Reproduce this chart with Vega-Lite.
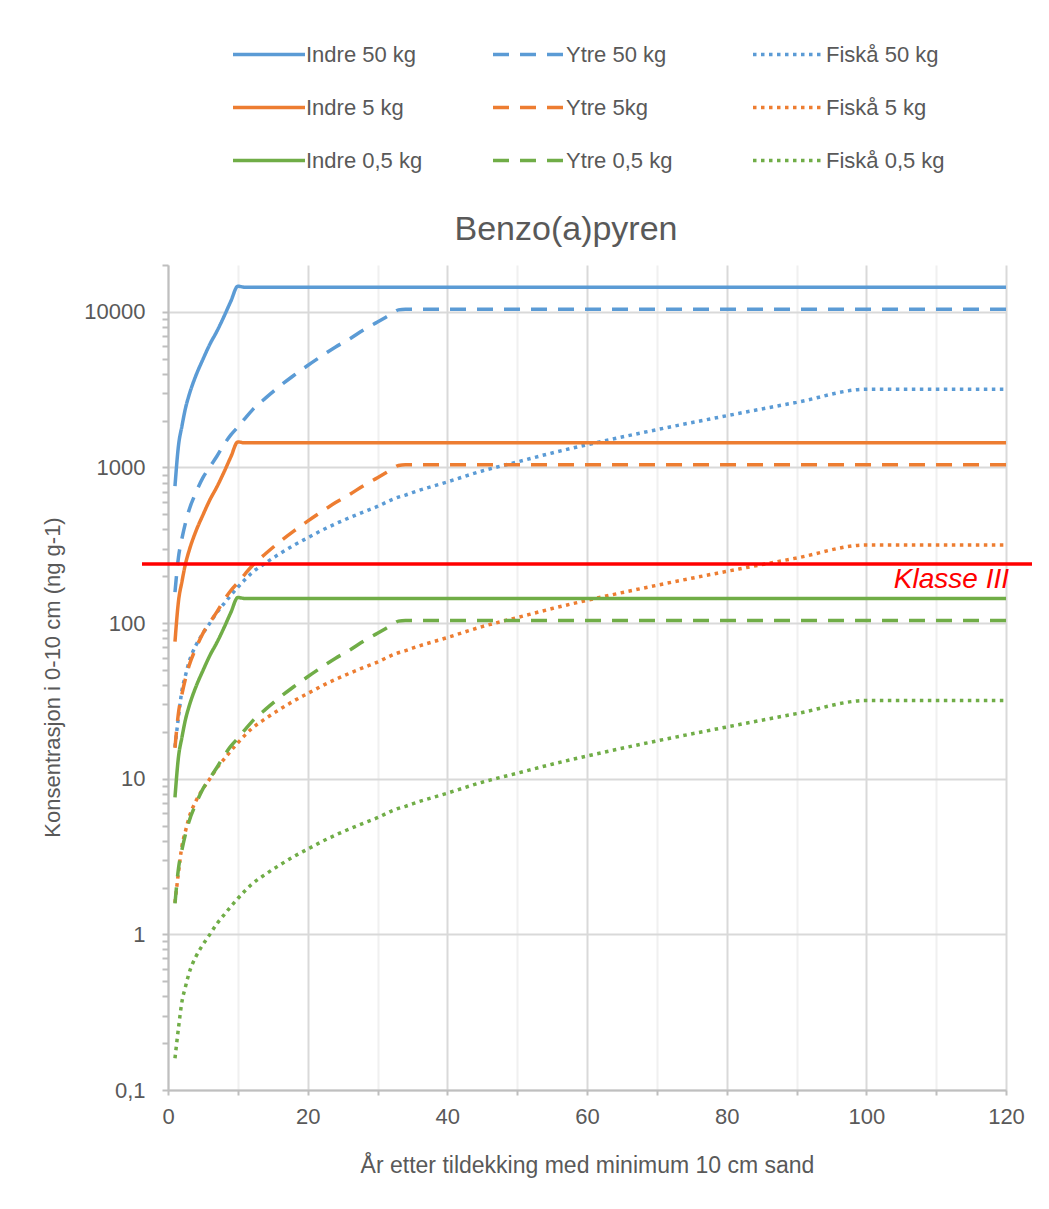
{
  "$schema": "https://vega.github.io/schema/vega-lite/v6.json",
  "width": 838,
  "height": 825,
  "autosize": {"type": "none"},
  "padding": {"left": 168, "top": 265, "right": 43, "bottom": 119},
  "background": "white",
  "config": {
    "font": "Liberation Sans, Arial, sans-serif",
    "view": {"stroke": null}
  },
  "title": {"text": "Benzo(a)pyren", "fontSize": 34, "fontWeight": "normal", "color": "#595959", "anchor": "middle", "frame": "group", "dx": -21, "offset": -246, "baseline": "alphabetic"},
  "layer": [
    {
      "data": {"values": [
        {"t": 1, "Indre 50 kg": 760, "Indre 5 kg": 76, "Indre 0,5 kg": 7.6, "Ytre 50 kg": 158, "Ytre 5kg": 15.8, "Ytre 0,5 kg": 1.58, "Fiskå 50 kg": 16, "Fiskå 5 kg": 1.6, "Fiskå 0,5 kg": 0.16},
        {"t": 1.5, "Indre 50 kg": 1380, "Indre 5 kg": 138, "Indre 0,5 kg": 13.8, "Ytre 50 kg": 265, "Ytre 5kg": 26.5, "Ytre 0,5 kg": 2.65, "Fiskå 50 kg": 25, "Fiskå 5 kg": 2.5, "Fiskå 0,5 kg": 0.25},
        {"t": 2, "Indre 50 kg": 1850, "Indre 5 kg": 185, "Indre 0,5 kg": 18.5, "Ytre 50 kg": 350, "Ytre 5kg": 35, "Ytre 0,5 kg": 3.5, "Fiskå 50 kg": 37, "Fiskå 5 kg": 3.7, "Fiskå 0,5 kg": 0.37},
        {"t": 2.5, "Indre 50 kg": 2400, "Indre 5 kg": 240, "Indre 0,5 kg": 24, "Ytre 50 kg": 440, "Ytre 5kg": 44, "Ytre 0,5 kg": 4.4, "Fiskå 50 kg": 46, "Fiskå 5 kg": 4.6, "Fiskå 0,5 kg": 0.46},
        {"t": 3, "Indre 50 kg": 2900, "Indre 5 kg": 290, "Indre 0,5 kg": 29, "Ytre 50 kg": 530, "Ytre 5kg": 53, "Ytre 0,5 kg": 5.3, "Fiskå 50 kg": 56, "Fiskå 5 kg": 5.6, "Fiskå 0,5 kg": 0.56},
        {"t": 4, "Indre 50 kg": 3900, "Indre 5 kg": 390, "Indre 0,5 kg": 39, "Ytre 50 kg": 690, "Ytre 5kg": 69, "Ytre 0,5 kg": 6.9, "Fiskå 50 kg": 72, "Fiskå 5 kg": 7.2, "Fiskå 0,5 kg": 0.72},
        {"t": 5, "Indre 50 kg": 4950, "Indre 5 kg": 495, "Indre 0,5 kg": 49.5, "Ytre 50 kg": 860, "Ytre 5kg": 86, "Ytre 0,5 kg": 8.6, "Fiskå 50 kg": 86, "Fiskå 5 kg": 8.6, "Fiskå 0,5 kg": 0.86},
        {"t": 6, "Indre 50 kg": 6200, "Indre 5 kg": 620, "Indre 0,5 kg": 62, "Ytre 50 kg": 1010, "Ytre 5kg": 101, "Ytre 0,5 kg": 10.1, "Fiskå 50 kg": 100, "Fiskå 5 kg": 10, "Fiskå 0,5 kg": 1.0},
        {"t": 7, "Indre 50 kg": 7500, "Indre 5 kg": 750, "Indre 0,5 kg": 75, "Ytre 50 kg": 1180, "Ytre 5kg": 118, "Ytre 0,5 kg": 11.8, "Fiskå 50 kg": 117, "Fiskå 5 kg": 11.7, "Fiskå 0,5 kg": 1.17},
        {"t": 8, "Indre 50 kg": 9300, "Indre 5 kg": 930, "Indre 0,5 kg": 93, "Ytre 50 kg": 1400, "Ytre 5kg": 140, "Ytre 0,5 kg": 14, "Fiskå 50 kg": 133, "Fiskå 5 kg": 13.3, "Fiskå 0,5 kg": 1.33},
        {"t": 9, "Indre 50 kg": 11700, "Indre 5 kg": 1170, "Indre 0,5 kg": 117, "Ytre 50 kg": 1620, "Ytre 5kg": 162, "Ytre 0,5 kg": 16.2, "Fiskå 50 kg": 151, "Fiskå 5 kg": 15.1, "Fiskå 0,5 kg": 1.51},
        {"t": 10, "Indre 50 kg": 14600, "Indre 5 kg": 1460, "Indre 0,5 kg": 146, "Ytre 50 kg": 1820, "Ytre 5kg": 182, "Ytre 0,5 kg": 18.2, "Fiskå 50 kg": 170, "Fiskå 5 kg": 17, "Fiskå 0,5 kg": 1.7},
        {"t": 11, "Indre 50 kg": 14400, "Indre 5 kg": 1440, "Indre 0,5 kg": 144, "Ytre 50 kg": 2060, "Ytre 5kg": 206, "Ytre 0,5 kg": 20.6, "Fiskå 50 kg": 190, "Fiskå 5 kg": 19, "Fiskå 0,5 kg": 1.9},
        {"t": 12, "Indre 50 kg": 14400, "Indre 5 kg": 1440, "Indre 0,5 kg": 144, "Ytre 50 kg": 2320, "Ytre 5kg": 232, "Ytre 0,5 kg": 23.2, "Fiskå 50 kg": 210, "Fiskå 5 kg": 21, "Fiskå 0,5 kg": 2.1},
        {"t": 14, "Indre 50 kg": 14400, "Indre 5 kg": 1440, "Indre 0,5 kg": 144, "Ytre 50 kg": 2800, "Ytre 5kg": 280, "Ytre 0,5 kg": 28, "Fiskå 50 kg": 244, "Fiskå 5 kg": 24.4, "Fiskå 0,5 kg": 2.44},
        {"t": 16, "Indre 50 kg": 14400, "Indre 5 kg": 1440, "Indre 0,5 kg": 144, "Ytre 50 kg": 3330, "Ytre 5kg": 333, "Ytre 0,5 kg": 33.3, "Fiskå 50 kg": 279, "Fiskå 5 kg": 27.9, "Fiskå 0,5 kg": 2.79},
        {"t": 18, "Indre 50 kg": 14400, "Indre 5 kg": 1440, "Indre 0,5 kg": 144, "Ytre 50 kg": 3900, "Ytre 5kg": 390, "Ytre 0,5 kg": 39, "Fiskå 50 kg": 316, "Fiskå 5 kg": 31.6, "Fiskå 0,5 kg": 3.16},
        {"t": 20, "Indre 50 kg": 14400, "Indre 5 kg": 1440, "Indre 0,5 kg": 144, "Ytre 50 kg": 4520, "Ytre 5kg": 452, "Ytre 0,5 kg": 45.2, "Fiskå 50 kg": 353, "Fiskå 5 kg": 35.3, "Fiskå 0,5 kg": 3.53},
        {"t": 22, "Indre 50 kg": 14400, "Indre 5 kg": 1440, "Indre 0,5 kg": 144, "Ytre 50 kg": 5200, "Ytre 5kg": 520, "Ytre 0,5 kg": 52, "Fiskå 50 kg": 394, "Fiskå 5 kg": 39.4, "Fiskå 0,5 kg": 3.94},
        {"t": 24, "Indre 50 kg": 14400, "Indre 5 kg": 1440, "Indre 0,5 kg": 144, "Ytre 50 kg": 5950, "Ytre 5kg": 595, "Ytre 0,5 kg": 59.5, "Fiskå 50 kg": 435, "Fiskå 5 kg": 43.5, "Fiskå 0,5 kg": 4.35},
        {"t": 26, "Indre 50 kg": 14400, "Indre 5 kg": 1440, "Indre 0,5 kg": 144, "Ytre 50 kg": 6700, "Ytre 5kg": 670, "Ytre 0,5 kg": 67, "Fiskå 50 kg": 476, "Fiskå 5 kg": 47.6, "Fiskå 0,5 kg": 4.76},
        {"t": 28, "Indre 50 kg": 14400, "Indre 5 kg": 1440, "Indre 0,5 kg": 144, "Ytre 50 kg": 7650, "Ytre 5kg": 765, "Ytre 0,5 kg": 76.5, "Fiskå 50 kg": 518, "Fiskå 5 kg": 51.8, "Fiskå 0,5 kg": 5.18},
        {"t": 30, "Indre 50 kg": 14400, "Indre 5 kg": 1440, "Indre 0,5 kg": 144, "Ytre 50 kg": 8600, "Ytre 5kg": 860, "Ytre 0,5 kg": 86, "Fiskå 50 kg": 562, "Fiskå 5 kg": 56.2, "Fiskå 0,5 kg": 5.62},
        {"t": 32, "Indre 50 kg": 14400, "Indre 5 kg": 1440, "Indre 0,5 kg": 144, "Ytre 50 kg": 9700, "Ytre 5kg": 970, "Ytre 0,5 kg": 97, "Fiskå 50 kg": 620, "Fiskå 5 kg": 62, "Fiskå 0,5 kg": 6.2},
        {"t": 33, "Indre 50 kg": 14400, "Indre 5 kg": 1440, "Indre 0,5 kg": 144, "Ytre 50 kg": 10300, "Ytre 5kg": 1030, "Ytre 0,5 kg": 103, "Fiskå 50 kg": 645, "Fiskå 5 kg": 64.5, "Fiskå 0,5 kg": 6.45},
        {"t": 34, "Indre 50 kg": 14400, "Indre 5 kg": 1440, "Indre 0,5 kg": 144, "Ytre 50 kg": 10400, "Ytre 5kg": 1040, "Ytre 0,5 kg": 104, "Fiskå 50 kg": 665, "Fiskå 5 kg": 66.5, "Fiskå 0,5 kg": 6.65},
        {"t": 35, "Indre 50 kg": 14400, "Indre 5 kg": 1440, "Indre 0,5 kg": 144, "Ytre 50 kg": 10400, "Ytre 5kg": 1040, "Ytre 0,5 kg": 104, "Fiskå 50 kg": 690, "Fiskå 5 kg": 69, "Fiskå 0,5 kg": 6.9},
        {"t": 40, "Indre 50 kg": 14400, "Indre 5 kg": 1440, "Indre 0,5 kg": 144, "Ytre 50 kg": 10400, "Ytre 5kg": 1040, "Ytre 0,5 kg": 104, "Fiskå 50 kg": 808, "Fiskå 5 kg": 80.8, "Fiskå 0,5 kg": 8.08},
        {"t": 45, "Indre 50 kg": 14400, "Indre 5 kg": 1440, "Indre 0,5 kg": 144, "Ytre 50 kg": 10400, "Ytre 5kg": 1040, "Ytre 0,5 kg": 104, "Fiskå 50 kg": 950, "Fiskå 5 kg": 95, "Fiskå 0,5 kg": 9.5},
        {"t": 50, "Indre 50 kg": 14400, "Indre 5 kg": 1440, "Indre 0,5 kg": 144, "Ytre 50 kg": 10400, "Ytre 5kg": 1040, "Ytre 0,5 kg": 104, "Fiskå 50 kg": 1085, "Fiskå 5 kg": 108.5, "Fiskå 0,5 kg": 10.85},
        {"t": 55, "Indre 50 kg": 14400, "Indre 5 kg": 1440, "Indre 0,5 kg": 144, "Ytre 50 kg": 10400, "Ytre 5kg": 1040, "Ytre 0,5 kg": 104, "Fiskå 50 kg": 1240, "Fiskå 5 kg": 124, "Fiskå 0,5 kg": 12.4},
        {"t": 60, "Indre 50 kg": 14400, "Indre 5 kg": 1440, "Indre 0,5 kg": 144, "Ytre 50 kg": 10400, "Ytre 5kg": 1040, "Ytre 0,5 kg": 104, "Fiskå 50 kg": 1400, "Fiskå 5 kg": 140, "Fiskå 0,5 kg": 14},
        {"t": 70, "Indre 50 kg": 14400, "Indre 5 kg": 1440, "Indre 0,5 kg": 144, "Ytre 50 kg": 10400, "Ytre 5kg": 1040, "Ytre 0,5 kg": 104, "Fiskå 50 kg": 1750, "Fiskå 5 kg": 175, "Fiskå 0,5 kg": 17.5},
        {"t": 80, "Indre 50 kg": 14400, "Indre 5 kg": 1440, "Indre 0,5 kg": 144, "Ytre 50 kg": 10400, "Ytre 5kg": 1040, "Ytre 0,5 kg": 104, "Fiskå 50 kg": 2150, "Fiskå 5 kg": 215, "Fiskå 0,5 kg": 21.5},
        {"t": 90, "Indre 50 kg": 14400, "Indre 5 kg": 1440, "Indre 0,5 kg": 144, "Ytre 50 kg": 10400, "Ytre 5kg": 1040, "Ytre 0,5 kg": 104, "Fiskå 50 kg": 2620, "Fiskå 5 kg": 262, "Fiskå 0,5 kg": 26.2},
        {"t": 100, "Indre 50 kg": 14400, "Indre 5 kg": 1440, "Indre 0,5 kg": 144, "Ytre 50 kg": 10400, "Ytre 5kg": 1040, "Ytre 0,5 kg": 104, "Fiskå 50 kg": 3180, "Fiskå 5 kg": 318, "Fiskå 0,5 kg": 31.8},
        {"t": 120, "Indre 50 kg": 14400, "Indre 5 kg": 1440, "Indre 0,5 kg": 144, "Ytre 50 kg": 10400, "Ytre 5kg": 1040, "Ytre 0,5 kg": 104, "Fiskå 50 kg": 3180, "Fiskå 5 kg": 318, "Fiskå 0,5 kg": 31.8}
      ]},
      "transform": [
        {"fold": ["Indre 50 kg", "Ytre 50 kg", "Fiskå 50 kg", "Indre 5 kg", "Ytre 5kg", "Fiskå 5 kg", "Indre 0,5 kg", "Ytre 0,5 kg", "Fiskå 0,5 kg"], "as": ["serie", "verdi"]}
      ],
      "mark": {"type": "line", "strokeWidth": 3.5, "interpolate": "monotone", "strokeCap": "butt"},
      "encoding": {
        "x": {
          "field": "t", "type": "quantitative",
          "scale": {"domain": [0, 120], "nice": false},
          "axis": {
            "title": "År etter  tildekking med minimum 10 cm sand",
            "values": [0, 5, 10, 15, 20, 25, 30, 35, 40, 45, 50, 55, 60, 65, 70, 75, 80, 85, 90, 95, 100, 105, 110, 115, 120],
            "labelExpr": "datum.value % 20 == 0 ? datum.label : ''",
            "grid": true,
            "gridColor": {"condition": {"test": "datum.value % 20 == 0", "value": "#D9D9D9"}, "value": "#F0F0F0"},
            "gridWidth": 2,
            "domainColor": "#BFBFBF", "domainWidth": 2,
            "tickColor": "#BFBFBF", "tickWidth": 2, "tickSize": 5,
            "labelFontSize": 22, "labelColor": "#595959", "labelPadding": 11,
            "labelOverlap": false, "labelFlush": false, "labelBound": false,
            "titleFontSize": 23, "titleFontWeight": "normal", "titleColor": "#595959",
            "titleY": 75, "titleBaseline": "middle"
          }
        },
        "y": {
          "field": "verdi", "type": "quantitative",
          "scale": {"type": "log", "domain": [0.1, 20000], "nice": false},
          "axis": {
            "title": "Konsentrasjon i 0-10 cm (ng g-1)",
            "values": [0.1, 0.2, 0.3, 0.4, 0.5, 0.6, 0.7, 0.8, 0.9, 1, 2, 3, 4, 5, 6, 7, 8, 9, 10, 20, 30, 40, 50, 60, 70, 80, 90, 100, 200, 300, 400, 500, 600, 700, 800, 900, 1000, 2000, 3000, 4000, 5000, 6000, 7000, 8000, 9000, 10000, 20000],
            "labelExpr": "datum.value == 0.1 ? '0,1' : (indexof([1, 10, 100, 1000, 10000], datum.value) >= 0 ? format(datum.value, 'd') : '')",
            "grid": true, "gridColor": "#D9D9D9", "gridWidth": 2,
            "gridOpacity": {"condition": {"test": "indexof([0.1, 1, 10, 100, 1000, 10000], datum.value) >= 0", "value": 1}, "value": 0},
            "domainColor": "#BFBFBF", "domainWidth": 2,
            "tickColor": "#BFBFBF", "tickWidth": 2, "tickSize": 6,
            "labelFontSize": 22, "labelColor": "#595959", "labelPadding": 17,
            "labelOverlap": false,
            "titleFontSize": 22, "titleFontWeight": "normal", "titleColor": "#595959",
            "titleX": -116, "titleY": 412, "titleAngle": -90, "titleAlign": "center", "titleBaseline": "middle"
          }
        },
        "color": {
          "field": "serie", "type": "nominal",
          "scale": {
            "domain": ["Indre 50 kg", "Ytre 50 kg", "Fiskå 50 kg", "Indre 5 kg", "Ytre 5kg", "Fiskå 5 kg", "Indre 0,5 kg", "Ytre 0,5 kg", "Fiskå 0,5 kg"],
            "range": ["#5B9BD5", "#5B9BD5", "#5B9BD5", "#ED7D31", "#ED7D31", "#ED7D31", "#70AD47", "#70AD47", "#70AD47"]
          },
          "legend": {"title": null, "orient": "none", "direction": "horizontal", "legendX": 63, "legendY": -237, "columns": 3, "symbolType": "stroke", "symbolSize": 5184, "symbolStrokeWidth": 3.5, "labelFontSize": 22, "labelColor": "#595959", "labelOffset": -1, "columnPadding": 66, "rowPadding": 0, "clipHeight": 53, "gridAlign": "all", "labelLimit": 300}
        },
        "strokeDash": {
          "field": "serie", "type": "nominal",
          "scale": {
            "domain": ["Indre 50 kg", "Ytre 50 kg", "Fiskå 50 kg", "Indre 5 kg", "Ytre 5kg", "Fiskå 5 kg", "Indre 0,5 kg", "Ytre 0,5 kg", "Fiskå 0,5 kg"],
            "range": [[1, 0], [16, 11], [3.5, 4.5], [1, 0], [16, 11], [3.5, 4.5], [1, 0], [16, 11], [3.5, 4.5]]
          },
          "legend": {"title": null, "orient": "none", "direction": "horizontal", "legendX": 63, "legendY": -237, "columns": 3, "symbolType": "stroke", "symbolSize": 5184, "symbolStrokeWidth": 3.5, "labelFontSize": 22, "labelColor": "#595959", "labelOffset": -1, "columnPadding": 66, "rowPadding": 0, "clipHeight": 53, "gridAlign": "all", "labelLimit": 300}
        }
      }
    },
    {
      "data": {"values": [{"navn": "Klasse III", "grense": 240}]},
      "mark": {"type": "rule", "color": "#FF0000", "strokeWidth": 3.5, "xOffset": -26, "x2Offset": 26},
      "encoding": {
        "y": {"field": "grense", "type": "quantitative"},
        "x": {"datum": 0},
        "x2": {"datum": 120}
      }
    },
    {
      "data": {"values": [{"navn": "Klasse III", "grense": 240}]},
      "mark": {"type": "text", "align": "right", "baseline": "middle", "dx": 3, "dy": 16, "fontSize": 28, "fontStyle": "italic", "color": "#FF0000"},
      "encoding": {
        "y": {"field": "grense", "type": "quantitative"},
        "x": {"datum": 120},
        "text": {"field": "navn"}
      }
    }
  ]
}
